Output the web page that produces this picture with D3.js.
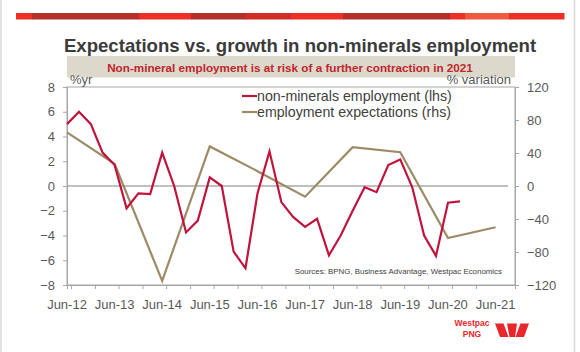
<!DOCTYPE html>
<html>
<head>
<meta charset="utf-8">
<script src="https://cdn.jsdelivr.net/npm/d3@7"></script>
<style>
  body { margin: 0; background: #fff; }
  svg { display: block; font-family: "Liberation Sans", Arial, sans-serif; }
</style>
</head>
<body>
<div id="chart"></div>
<script>
// Expectations vs. growth in non-minerals employment

// quarterly, non-minerals employment (%yr, lhs)
var quarters = ["Jun-12","Sep-12","Dec-12","Mar-13","Jun-13","Sep-13","Dec-13","Mar-14",
  "Jun-14","Sep-14","Dec-14","Mar-15","Jun-15","Sep-15","Dec-15","Mar-16",
  "Jun-16","Sep-16","Dec-16","Mar-17","Jun-17","Sep-17","Dec-17","Mar-18",
  "Jun-18","Sep-18","Dec-18","Mar-19","Jun-19","Sep-19","Dec-19","Mar-20",
  "Jun-20","Sep-20"];
var nonMinerals = [5.0, 6.0, 5.0, 2.7, 1.7, -1.8, -0.6, -0.65,
  2.7, 0.0, -3.75, -2.8, 0.7, 0.0, -5.3, -6.65,
  -0.6, 2.8, -1.3, -2.5, -3.3, -2.65, -5.6, -4.0,
  -2.0, -0.1, -0.5, 1.7, 2.15, -0.1, -4.0, -5.65,
  -1.35, -1.25];

// annual survey, employment expectations (% variation, rhs)
var surveyDates = ["Jun-12","Jun-13","Jun-14","Jun-15","Jun-16","Jun-17","Jun-18","Jun-19","Jun-20","Jun-21"];
var expectations = [65, 27, -115, 48, 18, -13, 47, 41, -63, -50];

var leftTicks = [-8, -6, -4, -2, 0, 2, 4, 6, 8];
var rightTicks = [-120, -80, -40, 0, 40, 80, 120];
var yearLabels = ["Jun-12","Jun-13","Jun-14","Jun-15","Jun-16","Jun-17","Jun-18","Jun-19","Jun-20","Jun-21"];

var parseQ = d3.timeParse("%b-%y");

var Chart = function (props) {
  this.element = props.element;
  this.width = 580;
  this.height = 352;
  this.plot = {left: 67, right: 515, top: 87, bottom: 285};
  this.draw();
};

Chart.prototype.draw = function () {
  var that = this;
  var p = this.plot;

  this.svg = d3.select(this.element).append("svg")
    .attr("width", this.width)
    .attr("height", this.height);

  // slide frame
  this.svg.append("line").attr("x1", 1).attr("x2", 1).attr("y1", 0).attr("y2", 352)
    .attr("stroke", "#d9d9d9").attr("stroke-width", 1.5);
  this.svg.append("line").attr("x1", 574.5).attr("x2", 574.5).attr("y1", 0).attr("y2", 352)
    .attr("stroke", "#d9d9d9").attr("stroke-width", 1.5);

  // red banner strip
  var strip = [[16, 32, "#ec3028"], [32, 139, "#b52e28"], [139, 191, "#ec3028"], [191, 246, "#b52e28"],
    [246, 291, "#d12c25"], [291, 343, "#ec3028"], [343, 450, "#b52e28"], [450, 465, "#ec3028"],
    [465, 509, "#ee5a40"], [509, 564, "#ec3028"]];
  this.svg.append("g").selectAll("rect").data(strip).enter().append("rect")
    .attr("x", function(d){ return d[0]; })
    .attr("y", 13)
    .attr("width", function(d){ return d[1] - d[0] + 0.5; })
    .attr("height", 6.5)
    .attr("fill", function(d){ return d[2]; });

  // titles
  this.svg.append("text")
    .attr("x", 300).attr("y", 51.5)
    .attr("text-anchor", "middle")
    .attr("font-size", 18.6).attr("font-weight", "bold")
    .attr("fill", "#3b3b3b")
    .text("Expectations vs. growth in non-minerals employment");
  this.svg.append("rect")
    .attr("x", 67).attr("y", 56).attr("width", 448).attr("height", 21.5)
    .attr("fill", "#dcd9cc");
  this.svg.append("text")
    .attr("x", 290).attr("y", 71.5)
    .attr("text-anchor", "middle")
    .attr("font-size", 11.7).attr("font-weight", "bold")
    .attr("fill", "#c0262c")
    .text("Non-mineral employment is at risk of a further contraction in 2021");

  // scales
  this.xScale = d3.scaleTime()
    .domain([parseQ("Jun-12"), new Date(2021, 9, 28)])
    .range([p.left, p.right]);
  this.yLeft = d3.scaleLinear().domain([-8, 8]).range([p.bottom, p.top]);
  this.yRight = d3.scaleLinear().domain([-120, 120]).range([p.bottom, p.top]);

  var halfYears = d3.timeMonth.every(6).range(parseQ("Jun-12"), new Date(2021, 6, 1));

  // frame
  this.svg.append("rect")
    .attr("x", p.left).attr("y", p.top)
    .attr("width", p.right - p.left).attr("height", p.bottom - p.top)
    .attr("fill", "none").attr("stroke", "#a6a6a6").attr("stroke-width", 1);

  // zero line
  this.svg.append("line")
    .attr("x1", p.left).attr("x2", 508)
    .attr("y1", this.yLeft(0)).attr("y2", this.yLeft(0))
    .attr("stroke", "#808080").attr("stroke-width", 1);

  // axes
  var xAxis = d3.axisBottom(this.xScale)
    .tickValues(halfYears)
    .tickSize(4)
    .tickFormat("");
  var gx = this.svg.append("g")
    .attr("transform", "translate(0," + p.bottom + ")")
    .call(xAxis);
  gx.selectAll("text").remove();
  this.svg.append("g").selectAll("text").data(yearLabels).enter().append("text")
    .attr("x", function(d){ return that.xScale(parseQ(d)); })
    .attr("y", 309)
    .attr("text-anchor", "middle")
    .attr("font-size", 13).attr("fill", "#595959")
    .text(function(d){ return d; });

  var gl = this.svg.append("g")
    .attr("transform", "translate(" + p.left + ",0)")
    .call(d3.axisLeft(this.yLeft).tickValues(leftTicks).tickSize(4).tickPadding(8));
  var gr = this.svg.append("g")
    .attr("transform", "translate(" + p.right + ",0)")
    .call(d3.axisRight(this.yRight).tickValues(rightTicks).tickSize(4).tickPadding(8));

  [gx, gl, gr].forEach(function(g){
    g.select(".domain").attr("stroke", "#a6a6a6");
    g.selectAll(".tick line").attr("stroke", "#a6a6a6");
    g.selectAll(".tick text").attr("font-size", 13).attr("fill", "#595959")
      .attr("font-family", "Liberation Sans, Arial, sans-serif");
  });

  this.svg.append("text").attr("x", 70).attr("y", 84)
    .attr("font-size", 13).attr("fill", "#595959").text("%yr");
  this.svg.append("text").attr("x", 511).attr("y", 84)
    .attr("text-anchor", "end")
    .attr("font-size", 13).attr("fill", "#595959").text("% variation");

  // series
  var expLine = d3.line()
    .x(function(d){ return that.xScale(parseQ(d[0])); })
    .y(function(d){ return that.yRight(d[1]); });
  this.svg.append("path")
    .datum(d3.zip(surveyDates, expectations))
    .attr("d", expLine)
    .attr("fill", "none").attr("stroke", "#9c8b66").attr("stroke-width", 2.2);

  var nmLine = d3.line()
    .x(function(d){ return that.xScale(parseQ(d[0])); })
    .y(function(d){ return that.yLeft(d[1]); });
  this.svg.append("path")
    .datum(d3.zip(quarters, nonMinerals))
    .attr("d", nmLine)
    .attr("fill", "none").attr("stroke", "#c0143c").attr("stroke-width", 2.2);

  // legend
  var legend = [["non-minerals employment (lhs)", "#c0143c"], ["employment expectations (rhs)", "#9c8b66"]];
  var lg = this.svg.append("g").selectAll("g").data(legend).enter().append("g")
    .attr("transform", function(d, i){ return "translate(242," + (96 + i * 16) + ")"; });
  lg.append("line").attr("x1", 0).attr("x2", 15)
    .attr("stroke", function(d){ return d[1]; }).attr("stroke-width", 2.2);
  lg.append("text").attr("x", 15).attr("y", 5)
    .attr("font-size", 14.2).attr("fill", "#404040")
    .text(function(d){ return d[0]; });

  // sources
  this.svg.append("text").attr("x", 502).attr("y", 274)
    .attr("text-anchor", "end")
    .attr("font-size", 7.9).attr("fill", "#404040")
    .text("Sources: BPNG, Business Advantage, Westpac Economics");

  // Westpac PNG mark
  this.svg.append("text").attr("x", 472).attr("y", 325.5)
    .attr("text-anchor", "middle").attr("font-size", 8.5).attr("font-weight", "bold")
    .attr("fill", "#e8262b").text("Westpac");
  this.svg.append("text").attr("x", 472).attr("y", 337)
    .attr("text-anchor", "middle").attr("font-size", 8.5).attr("font-weight", "bold")
    .attr("fill", "#e8262b").text("PNG");
  var logo = [
    [[495, 323.5], [503.5, 323.5], [508.5, 337], [500, 337]],
    [[507, 323.5], [517, 323.5], [515, 337], [509.5, 337]],
    [[520.5, 323.5], [529, 323.5], [524, 337], [515.5, 337]]
  ];
  this.svg.append("g").selectAll("polygon").data(logo).enter().append("polygon")
    .attr("points", function(d){ return d.map(function(q){ return q.join(","); }).join(" "); })
    .attr("fill", "#e8262b");
};

new Chart({element: document.getElementById("chart")});
</script>
</body>
</html>
